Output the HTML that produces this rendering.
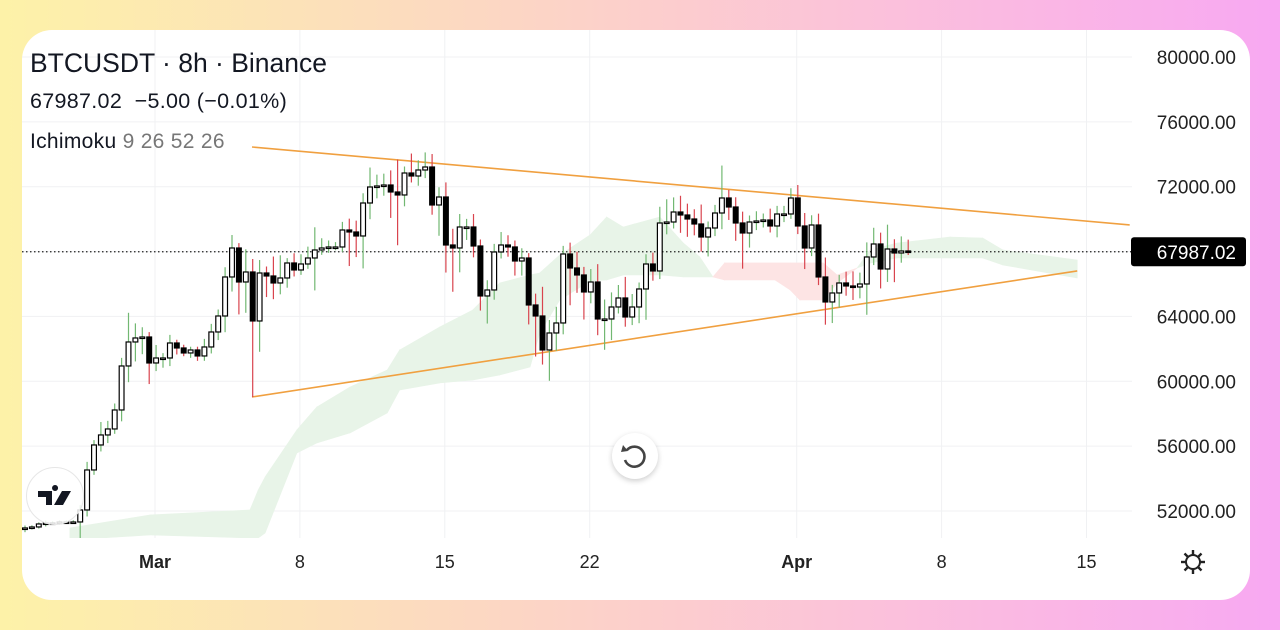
<!DOCTYPE html>
<html><head><meta charset="utf-8"><style>
html,body{margin:0;padding:0;width:1280px;height:630px;overflow:hidden;background:linear-gradient(90deg,#fdf2a8 0%,#fcd6c4 40%,#fbc0dc 70%,#f8a8f2 100%);font-family:"Liberation Sans",sans-serif}
#card{position:absolute;left:22px;top:30px;width:1228px;height:570px;background:#fff;border-radius:30px;overflow:hidden}
svg{position:absolute;left:0;top:0}
</style></head><body>
<div id="card"></div>
<svg id="chart" width="1280" height="630"></svg>
<script>
// ---- data ----
const closes=[50953,51015,51200,51262,51262,51323,51323,51323,52063,54530,56072,56689,57059,58230,60944,62424,62671,62732,61129,61437,61437,62362,62054,61746,61931,61561,62116,63041,64027,66433,68221,66124,66741,63719,66679,66494,66063,66371,67296,66864,67234,67604,68098,68221,68283,68283,69331,69208,68961,70996,71983,72045,72106,71675,71490,72846,72661,73031,73216,70873,71366,68406,68221,69516,69516,68344,65261,65631,67974,68406,68283,67419,67604,64706,64027,61931,62979,63596,67851,66988,66556,65508,66124,63842,63842,64582,65138,63966,64582,65693,67234,66803,69763,69824,70441,70256,70009,69701,68899,69454,70379,71305,70749,69763,69146,69824,69886,69948,69578,70318,70318,71305,69578,68221,69639,66433,64891,65446,66063,65878,65816,66001,67666,68468,66926,68159,67913,68036,67987];
const wickUp=[150,100,100,150,100,100,100,100,300,500,300,800,500,400,500,1800,900,600,300,800,300,500,200,200,200,200,500,500,400,600,800,300,1400,800,800,400,1200,1400,300,600,600,700,1400,600,400,300,500,700,700,600,1200,700,700,900,2000,400,1200,600,900,800,600,900,1000,800,500,800,400,600,500,800,600,400,600,300,700,1800,800,1000,500,700,1000,500,800,1100,1200,900,800,1300,800,400,600,700,1000,1400,900,1000,700,600,1200,400,500,2000,500,600,700,400,600,400,700,500,500,600,800,800,600,700,1200,500,500,700,900,700,900,1000,700,1500,600,900,700,500,300];
const wickDn=[200,100,100,150,100,100,100,100,1300,400,300,400,500,300,700,1000,1200,1000,1300,500,600,500,400,200,300,300,300,400,500,1000,900,2000,1900,4700,1900,1300,1000,700,600,400,300,300,2000,300,300,200,300,2100,1300,2000,1000,700,600,1600,3100,700,400,600,500,600,1900,1700,2700,1500,800,700,900,1700,600,400,600,900,900,1200,2500,900,1900,1100,700,2300,1100,1700,700,1000,1900,1300,400,600,500,1000,1900,600,500,700,400,1100,1100,700,900,1200,500,1000,800,1100,2200,900,500,400,400,700,500,300,500,1300,500,500,1400,1300,900,600,800,700,1900,500,1200,800,1800,600,200,300];
const priceTicks=[52000,56000,60000,64000,68000,72000,76000,80000];
const dateLabels=["Mar","8","15","22","Apr","8","15"];
const dateIdx=[18.84,39.84,60.84,81.84,111.84,132.84,153.84];
const cloudIdx=[6.5,18.1,32.6,33.8,34.8,39.4,42.3,47.1,52.5,54.3,60.1,64.9,68.8,73.2,74.6,77.5,81.9,84.3,86.7,92.0,95.4,97.8,99.7,101.4,108.7,110.9,112.3,115.7,117.7,120.6,122.5,126.4,134.1,138.8,141.7,152.5];
const spanA=[50953,51755,52063,53297,54099,56997,58416,59649,60697,61931,63349,64397,66063,66556,66679,67790,69023,70133,69516,70133,68529,67666,66433,66248,66248,65631,65014,65014,66063,66988,68098,68529,68899,68838,68098,67481];
const spanB=[50213,50522,50336,50336,50645,55579,56196,56813,58046,59464,59896,60081,60389,60883,62979,65014,66186,66248,66556,66556,66433,66433,66433,67296,67296,67296,67296,67296,66556,66988,67296,67604,67604,67604,67173,66371];
const trendUpper=[[32.9,74450],[160.1,69640]];
const trendLower=[[32.9,59033],[152.5,66803]];
const lastPrice=67987.02;
// ---- scales ----
const X0=25,STEP=6.9;
const xs=i=>X0+i*STEP;
const ys=p=>57+(80000-p)*0.016214;
const NS="http://www.w3.org/2000/svg";
const svg=document.getElementById('chart');
function mk(tag,at,parent){const e=document.createElementNS(NS,tag);for(const k in at)e.setAttribute(k,at[k]);(parent||svg).appendChild(e);return e;}
const defs=mk('defs',{});
const cp=mk('clipPath',{id:'plot'},defs);
mk('rect',{x:22,y:30,width:1110,height:508},cp);
const plot=mk('g',{'clip-path':'url(#plot)'});


// grid
priceTicks.forEach(p=>{const l=mk('line',{x1:22,x2:1132,y1:ys(p),y2:ys(p),stroke:'#f0f1f3','stroke-width':1},plot);

});
dateIdx.forEach(i=>{const l=mk('line',{x1:xs(i),x2:xs(i),y1:30,y2:538,stroke:'#f0f1f3','stroke-width':1},plot);

});
// cloud
for(let k=0;k<cloudIdx.length-1;k++){
 const a0=spanA[k],a1=spanA[k+1],b0=spanB[k],b1=spanB[k+1];
 const green=(a0+a1)>=(b0+b1);
 const pts=[[xs(cloudIdx[k]),ys(a0)],[xs(cloudIdx[k+1]),ys(a1)],[xs(cloudIdx[k+1]),ys(b1)],[xs(cloudIdx[k]),ys(b0)]].map(p=>p.join(',')).join(' ');
 const pg=mk('polygon',{points:pts,fill:green?'#e8f4e8':'#fde4e4',stroke:green?'#e8f4e8':'#fde4e4','stroke-width':0.6},plot);
 
 
}
// trendlines
[trendUpper,trendLower].forEach((t,n)=>{const l=mk('line',{x1:xs(t[0][0]),y1:ys(t[0][1]),x2:xs(t[1][0]),y2:ys(t[1][1]),stroke:'#f0a040','stroke-width':1.6},plot);

});
// last price line
const pl=mk('line',{x1:22,x2:1132,y1:ys(lastPrice),y2:ys(lastPrice),stroke:'#222','stroke-width':1.2,'stroke-dasharray':'1.5 2.5'},plot);


// candles
closes.forEach((c,i)=>{
 const o=i?closes[i-1]:c-60;
 const up=c>=o;const x=xs(i);
 const hi=Math.max(o,c)+wickUp[i],lo=Math.min(o,c)-wickDn[i];
 const g=mk('g',{},plot);
 
 
 mk('line',{x1:x,x2:x,y1:ys(hi),y2:ys(lo),stroke:up?'#72b872':'#d9444e','stroke-width':1.2},g);
 const top=ys(Math.max(o,c)),h=Math.max(1.5,ys(Math.min(o,c))-top);
 mk('rect',{x:x-2.4,y:top,width:4.8,height:h,fill:up?'#fff':'#000',stroke:'#000','stroke-width':1.2},g);
});
// price axis
priceTicks.forEach(p=>{const t=mk('text',{x:1236,y:ys(p)+7,'text-anchor':'end','font-size':19,fill:'#222'});t.textContent=p.toFixed(2);

});
const lb=mk('rect',{x:1131,y:ys(lastPrice)-14.5,width:115,height:29,rx:3,fill:'#000'});


const lt=mk('text',{x:1236,y:ys(lastPrice)+7,'text-anchor':'end','font-size':19,fill:'#fff'});lt.textContent=lastPrice.toFixed(2);


// date axis
dateLabels.forEach((d,k)=>{const t=mk('text',{x:xs(dateIdx[k]),y:568,'text-anchor':'middle','font-size':18,fill:'#222','font-weight':(d==='Mar'||d==='Apr')?'bold':'normal'});t.textContent=d;

});
</script>
<div style="position:absolute;left:30px;top:47px;color:#131722">
 <div style="font-size:26.5px;line-height:32px">BTCUSDT · 8h · Binance</div>
 <div style="font-size:21.5px;margin-top:10px;letter-spacing:0.3px">67987.02 &nbsp;−5.00 (−0.01%)</div>
 <div style="font-size:21px;margin-top:16px;letter-spacing:0.3px">Ichimoku <span style="color:#777">9 26 52 26</span></div>
</div>
<div style="position:absolute;left:26px;top:467px;width:58px;height:58px;border-radius:50%;background:rgba(255,255,255,0.85);border:1.5px solid #e6e6e6;box-sizing:border-box">
 <svg width="58" height="58" style="position:absolute;left:0;top:0"><path d="M11 23h14v14h-6v-8h-8z M28 23a3 3 0 1 1 0.1 0z M35 23h9l-8 14h-9z" fill="#131722"/></svg>
</div>
<div style="position:absolute;left:612px;top:433px;width:46px;height:46px;border-radius:50%;background:#fff;box-shadow:0 2px 6px rgba(0,0,0,0.2)">
 <svg width="46" height="46" style="position:absolute;left:0;top:0"><path d="M15 17 A10 10 0 1 1 13 27" fill="none" stroke="#444" stroke-width="2.6"/><path d="M11 12 L16 18 L9 19 Z" fill="#444"/></svg>
</div>
<div style="position:absolute;left:1180px;top:549px;width:26px;height:26px">
 <svg width="26" height="26"><circle cx="13" cy="13" r="7" fill="none" stroke="#222" stroke-width="2"/><g stroke="#222" stroke-width="2.4"><line x1="13" y1="1" x2="13" y2="6"/><line x1="13" y1="20" x2="13" y2="25"/><line x1="1" y1="13" x2="6" y2="13"/><line x1="20" y1="13" x2="25" y2="13"/><line x1="4.5" y1="4.5" x2="8" y2="8"/><line x1="18" y1="18" x2="21.5" y2="21.5"/><line x1="4.5" y1="21.5" x2="8" y2="18"/><line x1="18" y1="8" x2="21.5" y2="4.5"/></g></svg>
</div>
</body></html>
